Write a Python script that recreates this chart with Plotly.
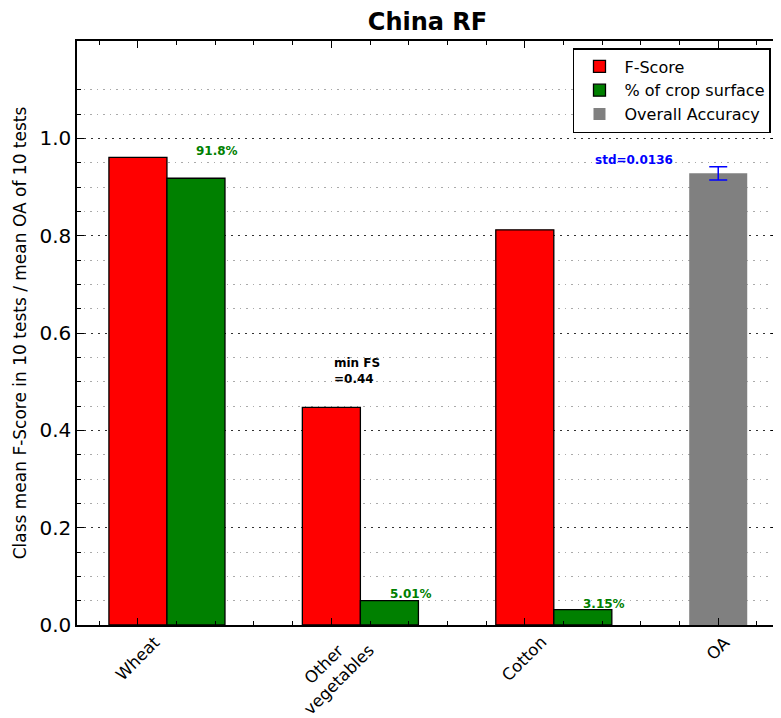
import numpy as np
import plotly.graph_objects as go

# ---------------- data ----------------
categories = ["Wheat", "Other<br>vegetables", "Cotton"]
f_score = [0.961, 0.447, 0.812]
crop_pct = [91.8, 5.01, 3.15]
crop_pct_labels = ["91.8%", "5.01%", "3.15%"]
oa_label = "OA"
oa_mean = 0.928
oa_std = 0.0136
min_fs_text = "min FS<br>=0.44"
std_text = "std=0.0136"
y_tick_vals = [0.0, 0.2, 0.4, 0.6, 0.8, 1.0]
y_tick_text = ["0.0", "0.2", "0.4", "0.6", "0.8", "1.0"]

# ---------------- layout helpers ----------------
bw = 0.3
idx = np.arange(len(categories))
red_x = idx + bw / 2
green_x = idx + 1.5 * bw
oa_x = len(categories) + bw / 2
tick_x = list(red_x) + [oa_x]
tick_labels = categories + [oa_label]

FONT = "DejaVu Sans, Verdana, sans-serif"
W, H = 773, 710  # page body has an 8px margin

fig = go.Figure()
fig.add_trace(go.Bar(
    x=red_x, y=f_score, width=bw, name="F-Score",
    marker=dict(color="#ff0000", line=dict(color="black", width=1.3)),
))
fig.add_trace(go.Bar(
    x=green_x, y=[p / 100 for p in crop_pct], width=bw, name="% of crop surface",
    marker=dict(color="#008000", line=dict(color="black", width=1.3)),
))
fig.add_trace(go.Bar(
    x=[oa_x], y=[oa_mean], width=bw, name="Overall Accuracy",
    marker=dict(color="#808080", line=dict(color="#808080", width=0)),
    error_y=dict(type="data", array=[oa_std], color="#0000ff", thickness=1.5, width=9),
))

annotations = []
# percent labels above green bars
pct_dy = [0.055, 0.014, 0.012]
for i, (p, lab) in enumerate(zip(crop_pct, crop_pct_labels)):
    annotations.append(dict(
        x=i + 0.56, y=p / 100 + pct_dy[i], xref="x", yref="y", text=f"<b>{lab}</b>",
        showarrow=False, xanchor="center", yanchor="middle",
        font=dict(family=FONT, size=12, color="#008000"),
    ))
# min FS label
imin = int(np.argmin(f_score))
annotations.append(dict(
    x=imin + 0.155, y=f_score[imin] + 0.075, xref="x", yref="y", text=f"<b>{min_fs_text}</b>",
    showarrow=False, xanchor="left", yanchor="middle", align="left",
    font=dict(family=FONT, size=12, color="black"),
))
# std label
annotations.append(dict(
    x=oa_x - 0.434, y=oa_mean + 0.027, xref="x", yref="y", text=f"<b>{std_text}</b>",
    showarrow=False, xanchor="center", yanchor="middle",
    font=dict(family=FONT, size=12, color="#0000ff"),
))
# rotated category labels
for xv, lab in zip(tick_x, tick_labels):
    nlines = lab.count("<br>") + 1
    annotations.append(dict(
        x=xv, y=0, xref="x", yref="y", text=lab, textangle=-45,
        showarrow=False, xanchor="center", yanchor="top", yshift=-5 + 7 * (nlines - 1),
        font=dict(family=FONT, size=16.5, color="black"),
    ))

minor_y = [round(v, 2) for v in np.arange(0.05, 1.1001, 0.05) if abs(v / 0.2 - round(v / 0.2)) > 1e-6]

fig.update_layout(
    width=W, height=H,
    margin=dict(l=69, r=1, t=33, b=93),
    paper_bgcolor="white", plot_bgcolor="white",
    barmode="overlay",
    title=dict(text="<b>China RF</b>", xref="paper", x=0.5, xanchor="center",
               y=1 - 14 / H, yanchor="middle",
               font=dict(family=FONT, size=24, color="black")),
    font=dict(family=FONT, color="black"),
    showlegend=True,
    legend=dict(x=0.990, y=0.988, xanchor="right", yanchor="top",
                bordercolor="black", borderwidth=1.5, bgcolor="white",
                font=dict(family=FONT, size=16, color="black"),
                tracegroupgap=0, itemwidth=40),
    annotations=annotations,
)
fig.update_xaxes(
    range=[-0.165, 3.459], showgrid=False, zeroline=False,
    showline=True, linecolor="black", linewidth=1.5, mirror="ticks",
    tickmode="array", tickvals=tick_x, ticktext=["" for _ in tick_x],
    ticks="inside", ticklen=7, tickcolor="black", tickwidth=1,
    minor=dict(tickmode="linear", tick0=bw / 2, dtick=0.2, ticks="inside", ticklen=4,
               tickcolor="black", tickwidth=1, showgrid=False),
)
fig.update_yaxes(
    range=[0, 1.2], zeroline=False,
    showline=True, linecolor="black", linewidth=1.5, mirror="ticks",
    tickmode="array", tickvals=y_tick_vals, ticktext=y_tick_text,
    ticks="inside", ticklen=7, tickcolor="black", tickwidth=1,
    tickfont=dict(family=FONT, size=20, color="black"),
    showgrid=True, gridcolor="#333333", gridwidth=1, griddash="2px,5px",
    minor=dict(tickmode="array", tickvals=minor_y, ticks="inside", ticklen=4,
               tickcolor="black", tickwidth=1, showgrid=True, gridcolor="#aaaaaa",
               gridwidth=1, griddash="1.5px,5px"),
    title=dict(text="Class mean F-Score in 10 tests / mean OA of 10 tests",
               font=dict(family=FONT, size=17, color="black"), standoff=8),
)

fig.write_html("out.html")
